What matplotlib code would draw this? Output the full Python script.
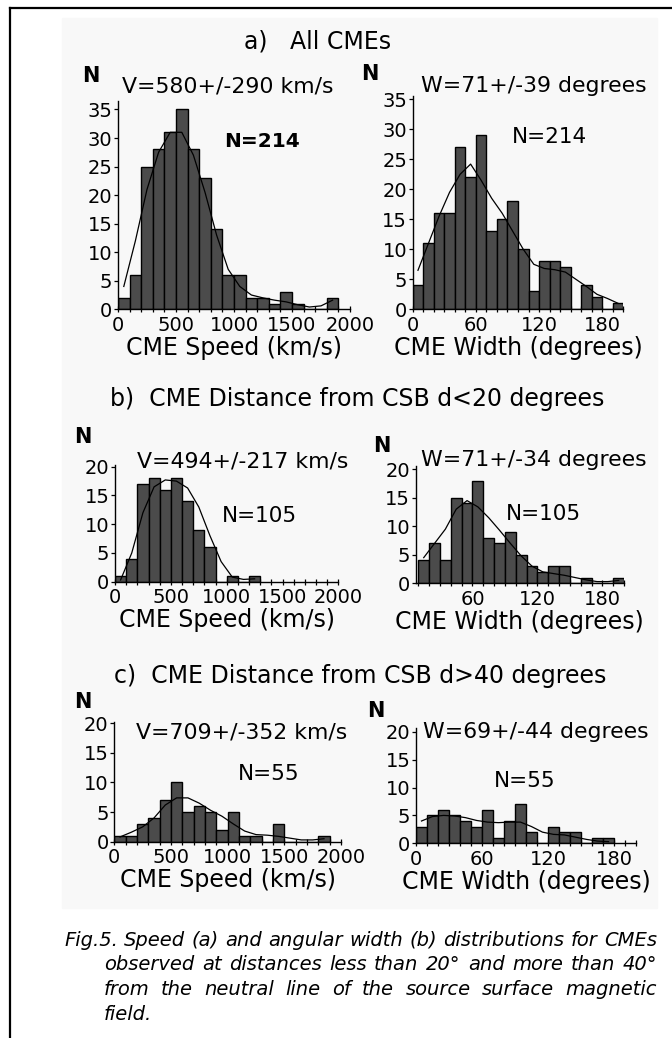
import matplotlib
matplotlib.use("Agg")
import matplotlib.pyplot as plt
import numpy as np
from matplotlib.ticker import MultipleLocator, FixedLocator
from matplotlib.lines import Line2D
from matplotlib.patches import Rectangle

plt.rcParams['font.family'] = ['DejaVu Sans']

W, H = 672, 1038

# ---- data ----
# speed histograms, 100 km/s bins starting at 0
a_speed_counts = [2, 6, 25, 28, 31, 35, 28, 23, 14, 6, 6, 2, 2, 1, 3, 1, 0, 0, 2]
a_speed_fit = [4, 12, 21, 27.5, 31, 31, 27, 20.5, 13, 7, 4, 2.5, 2, 1.6, 1.3, 0.8, 0.4, 0.6, 1.6]
b_speed_counts = [1, 4, 17, 18, 16, 18, 14, 9, 6, 0, 1, 0, 1]
b_speed_fit = [0.3, 5, 12, 16.5, 17.7, 17.5, 16.3, 13, 8, 3.5, 0.8, 0.4, 0.5]
c_speed_counts = [1, 1, 3, 4, 7, 10, 5, 6, 5, 2, 5, 1, 1, 0, 3, 0, 0, 0, 1]
c_speed_fit = [0.8, 1.6, 2.5, 4, 6.2, 7.4, 7.4, 6.5, 5.3, 4.3, 3, 1.8, 1.2, 1.1, 0.9, 0.6, 0.3, 0.3, 0.5]

# width histograms, 10 degree bins
a_width_start = 0
a_width_counts = [4, 11, 16, 16, 27, 22, 29, 13, 15, 18, 10, 3, 8, 8, 7, 0, 4, 2, 0, 1]
a_width_fit = [6.5, 11, 15.5, 19.5, 22.5, 24.2, 21.5, 18.5, 16, 13, 10, 7.5, 6.8, 6.6, 6.2, 5, 3.8, 2.5, 1.8, 1]
b_width_start = 10
b_width_counts = [4, 7, 4, 15, 14, 18, 8, 7, 9, 5, 3, 2, 3, 3, 0, 1, 0, 0, 1]
b_width_fit = [4.5, 7, 9.5, 13, 14.5, 13.4, 11.5, 9.3, 7, 4.8, 3, 2, 1.7, 1.4, 1, 0.6, 0.3, 0.3, 0.5]
c_width_start = 0
c_width_counts = [3, 5, 6, 5, 4, 3, 6, 1, 4, 7, 2, 0, 3, 2, 2, 0, 1, 1]
c_width_fit = [4, 4.8, 5, 4.9, 4.6, 4.1, 3.8, 3.7, 3.8, 3.8, 3, 2, 1.6, 1.5, 1.1, 0.7, 0.4, 0.3]

titles = ["a)   All CMEs",
          "b)  CME Distance from CSB d<20 degrees",
          "c)  CME Distance from CSB d>40 degrees"]
speed_notes = ["V=580+/-290 km/s", "V=494+/-217 km/s", "V=709+/-352 km/s"]
width_notes = ["W=71+/-39 degrees", "W=71+/-34 degrees", "W=69+/-44 degrees"]
n_notes = ["N=214", "N=105", "N=55"]
caption = ["Fig.5.  Speed (a) and angular width (b) distributions for CMEs",
           "observed at distances less than 20° and more than 40°",
           "from the neutral line of the source surface magnetic",
           "field."]

BAR = '#4b4b4b'

fig = plt.figure(figsize=(W / 100, H / 100), dpi=100)


def fx(x):
    return x / W


def fy(y):
    return 1 - y / H


def px_axes(x0, x1, ybot, ytop):
    ax = fig.add_axes([fx(x0), fy(ybot), (x1 - x0) / W, (ybot - ytop) / H])
    ax.set_zorder(2)
    return ax


# faint tint of the scanned figure area, plus the frame lines
fig.patches.append(Rectangle((fx(62), fy(908)), (657 - 62) / W, (908 - 18) / H,
                             transform=fig.transFigure, color='#f8f8f8', zorder=-5))
fig.lines.append(Line2D([fx(10), fx(10)], [fy(8), 0], transform=fig.transFigure, color='black', lw=1.6))
fig.lines.append(Line2D([fx(10), 1], [fy(8), fy(8)], transform=fig.transFigure, color='black', lw=1.6))


def style(ax, xlabel):
    ax.set_facecolor('none')
    for s in ['top', 'right']:
        ax.spines[s].set_visible(False)
    for s in ['left', 'bottom']:
        ax.spines[s].set_linewidth(1.0)
    ax.tick_params(axis='y', direction='out', length=3, width=0.9, pad=1, labelsize=14)
    ax.tick_params(axis='x', which='both', direction='inout', length=5, width=0.9, pad=2, labelsize=14)
    ax.yaxis.set_major_locator(MultipleLocator(5))
    ax.set_xlabel(xlabel, fontsize=17, labelpad=1)


def speed_panel(ax, counts, fit, ytop):
    lefts = np.arange(len(counts)) * 100
    ax.bar(lefts, counts, width=100, align='edge', color=BAR, edgecolor='black', linewidth=1.0, zorder=2)
    ax.plot(lefts + 50, fit, color='black', lw=0.9, zorder=3)
    ax.set_xlim(0, 2000)
    ax.set_ylim(0, ytop)
    ax.xaxis.set_major_locator(MultipleLocator(500))
    ax.xaxis.set_minor_locator(MultipleLocator(100))
    style(ax, "CME Speed (km/s)")


def width_panel(ax, start, counts, fit, xmin, ytop, majors):
    lefts = start + np.arange(len(counts)) * 10
    ax.bar(lefts, counts, width=10, align='edge', color=BAR, edgecolor='black', linewidth=1.0, zorder=2)
    ax.plot(lefts + 5, fit, color='black', lw=0.9, zorder=3)
    ax.set_xlim(xmin, 200)
    ax.set_ylim(0, ytop)
    ax.xaxis.set_major_locator(FixedLocator(majors))
    ax.xaxis.set_minor_locator(MultipleLocator(10))
    style(ax, "CME Width (degrees)")


# panel a
ax = px_axes(118, 350, 309.3, 100.9)
speed_panel(ax, a_speed_counts, a_speed_fit, 36.5)
ax = px_axes(412.7, 623.3, 309.3, 96.3)
width_panel(ax, a_width_start, a_width_counts, a_width_fit, 0, 35.5, [0, 60, 120, 180])

# panel b
ax = px_axes(115, 338.4, 581.7, 465)
speed_panel(ax, b_speed_counts, b_speed_fit, 20.3)
ax = px_axes(415.6, 624.1, 583.3, 466.4)
width_panel(ax, b_width_start, b_width_counts, b_width_fit, 7.5, 20.5, [60, 120, 180])

# panel c
ax = px_axes(114.3, 341, 841.7, 722.1)
speed_panel(ax, c_speed_counts, c_speed_fit, 20.2)
ax = px_axes(416, 636, 843.3, 728.4)
width_panel(ax, c_width_start, c_width_counts, c_width_fit, 0, 20.6, [0, 60, 120, 180])


def txt(x, y, s, size, weight='normal', ha='center'):
    fig.text(fx(x), fy(y), s, fontsize=size, fontweight=weight, ha=ha, va='baseline')


# section titles
txt(318, 49, titles[0], 17)
txt(357.5, 406, titles[1], 17)
txt(360.5, 683, titles[2], 17)

# N axis labels
for x, y in [(91, 81.5), (370, 80), (83, 443), (381.5, 452), (82.5, 708), (375.5, 717)]:
    txt(x, y, "N", 15, 'bold')

# mean +/- sigma notes
txt(228, 93, speed_notes[0], 15.8)
txt(534, 92, width_notes[0], 15.8)
txt(242.5, 467.5, speed_notes[1], 15.8)
txt(534, 466, width_notes[1], 15.8)
txt(242, 738, speed_notes[2], 15.8)
txt(535.5, 738, width_notes[2], 15.8)

# sample sizes
txt(262.5, 147, n_notes[0], 14.5, 'bold')
txt(549.5, 143, n_notes[0], 15.5)
txt(259.5, 521.5, n_notes[1], 15.5)
txt(543.5, 520, n_notes[1], 15.5)
txt(268.5, 780, n_notes[2], 15.5)
txt(525, 787, n_notes[2], 15.5)

# justified italic caption
renderer = fig.canvas.get_renderer()
cap_rows = [(64, 657, 946), (104, 657, 970.5), (104, 657, 995), (104, None, 1019.5)]
for line, (x0, x1, yb) in zip(caption, cap_rows):
    if x1 is None:
        fig.text(fx(x0), fy(yb), line, fontsize=14, style='italic', va='baseline')
        continue
    words = line.split()
    items = [fig.text(0, fy(yb), w, fontsize=14, style='italic', va='baseline') for w in words]
    widths = [t.get_window_extent(renderer).width for t in items]
    gap = (x1 - x0 - sum(widths)) / (len(words) - 1)
    x = x0
    for t, w in zip(items, widths):
        t.set_x(fx(x))
        x += w + gap

fig.savefig("out.png", dpi=100)
